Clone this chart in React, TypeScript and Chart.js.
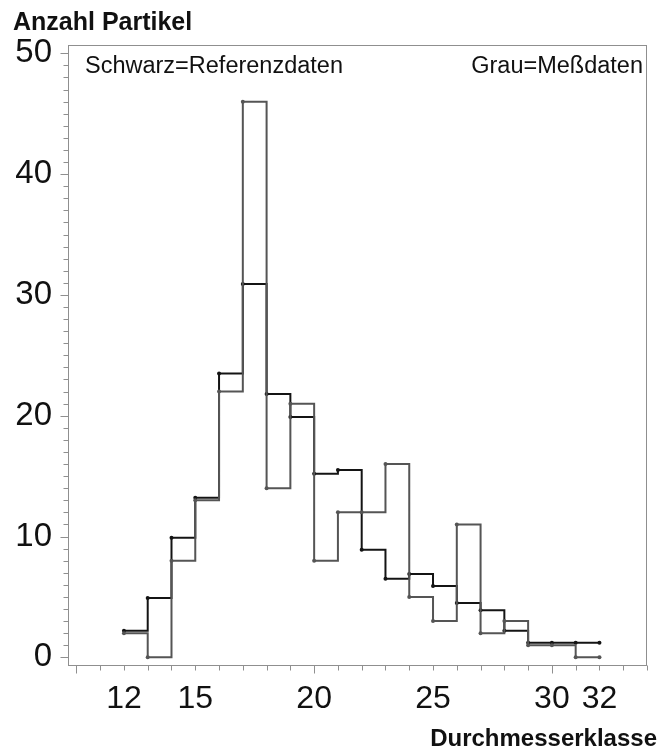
import { useEffect, useRef } from "react";
import { Chart, registerables } from "chart.js";

Chart.register(...registerables);

// Diameter classes (left edge of each class; the last entry closes the final step)
const classes = [12, 13, 14, 15, 16, 17, 18, 19, 20, 21, 22, 23, 24, 25, 26, 27, 28, 29, 30, 31, 32];

// Reference distribution (black)
const referenceCounts = [2.2, 4.9, 9.9, 13.2, 23.5, 30.9, 21.8, 19.9, 15.2, 15.5, 8.9, 6.5, 6.9, 5.9, 4.5, 3.9, 2.2, 1.2, 1.2, 1.2, 1.2];

// Measured distribution (grey)
const measuredCounts = [2, 0, 8, 13, 22, 46, 14, 21, 8, 12, 12, 16, 5, 3, 11, 2, 3, 1, 1, 0, 0];

// Axis ticks
const xTickValues = [10, 11, 12, 13, 14, 15, 16, 17, 18, 19, 20, 21, 22, 23, 24, 25, 26, 27, 28, 29, 30, 31, 32, 33, 34];
const xTickLabels = [12, 15, 20, 25, 30, 32];
const xMajorTicks = [10, 20, 30];
const yTickValues = Array.from({ length: 51 }, (_, i) => i);
const yTickLabels = [0, 10, 20, 30, 40, 50];

const yAxisTitle = "Anzahl Partikel";
const xAxisTitle = "Durchmesserklasse";
const referenceNote = "Schwarz=Referenzdaten";
const measuredNote = "Grau=Meßdaten";

const FONT = '"Liberation Sans", Arial, Helvetica, sans-serif';
const FRAME = "#8f8f8f";
const TEXT = "#111111";
const BLACK = "#141414";
const GREY = "#555555";

const framePlugin = {
  id: "frameAndTicks",
  afterDraw(chart: any) {
    const { ctx, chartArea } = chart;
    const xs = chart.scales.x;
    const ys = chart.scales.y;
    const left = Math.round(chartArea.left) + 0.5;
    const right = Math.round(chartArea.right) - 0.5;
    const top = Math.round(chartArea.top) + 0.5;
    const bottom = Math.round(chartArea.bottom) - 0.5;
    ctx.save();
    ctx.strokeStyle = FRAME;
    ctx.lineWidth = 1;
    ctx.strokeRect(left, top, right - left, bottom - top);

    ctx.beginPath();
    for (const v of yTickValues) {
      const py = Math.round(ys.getPixelForValue(v)) + 0.5;
      const len = v % 10 === 0 ? 8 : 5;
      ctx.moveTo(left - len, py);
      ctx.lineTo(left, py);
    }
    for (const v of xTickValues) {
      const px = Math.round(xs.getPixelForValue(v)) + 0.5;
      const len = xMajorTicks.includes(v) ? 8 : 5;
      ctx.moveTo(px, bottom);
      ctx.lineTo(px, bottom + len);
    }
    ctx.stroke();

    ctx.fillStyle = TEXT;
    ctx.textBaseline = "alphabetic";
    ctx.font = `bold 25px ${FONT}`;
    ctx.textAlign = "left";
    ctx.fillText(yAxisTitle, 13, 30);

    ctx.font = `bold 24px ${FONT}`;
    ctx.textAlign = "right";
    ctx.fillText(xAxisTitle, 657, 746);

    ctx.font = `23.5px ${FONT}`;
    ctx.textAlign = "left";
    ctx.fillText(referenceNote, 85, 73);
    ctx.textAlign = "right";
    ctx.fillText(measuredNote, 643, 73);
    ctx.restore();
  },
};

export default function App() {
  const canvasRef = useRef<HTMLCanvasElement | null>(null);

  useEffect(() => {
    const canvas = canvasRef.current;
    if (!canvas) return;

    const chart = new Chart(canvas, {
      type: "line",
      data: {
        datasets: [
          {
            label: measuredNote,
            data: classes.map((c, i) => ({ x: c, y: measuredCounts[i] })),
            borderColor: GREY,
            backgroundColor: GREY,
            borderWidth: 2,
            stepped: "before",
            pointRadius: 2,
            pointBorderWidth: 0,
            pointBackgroundColor: GREY,
            order: 0,
          },
          {
            label: referenceNote,
            data: classes.map((c, i) => ({ x: c, y: referenceCounts[i] })),
            borderColor: BLACK,
            backgroundColor: BLACK,
            borderWidth: 2,
            stepped: "before",
            pointRadius: 2,
            pointBorderWidth: 0,
            pointBackgroundColor: BLACK,
            order: 1,
          },
        ],
      },
      options: {
        responsive: false,
        animation: false,
        layout: { padding: { left: 0, top: 45, right: 13, bottom: 0 } },
        plugins: {
          legend: { display: false },
          tooltip: { enabled: false },
          title: { display: false },
        },
        scales: {
          x: {
            type: "linear",
            min: 9.647,
            max: 34,
            grid: { display: false, drawTicks: false },
            border: { display: false },
            afterBuildTicks: (scale: any) => {
              scale.ticks = xTickValues.map((v) => ({ value: v }));
            },
            afterFit: (scale: any) => {
              scale.height = 83;
            },
            ticks: {
              autoSkip: false,
              maxRotation: 0,
              padding: 14,
              color: TEXT,
              font: { family: FONT, size: 32 },
              callback: (v: any) => (xTickLabels.includes(Number(v)) ? String(v) : ""),
            },
          },
          y: {
            type: "linear",
            min: -0.72,
            max: 50.69,
            grid: { display: false, drawTicks: false },
            border: { display: false },
            afterBuildTicks: (scale: any) => {
              scale.ticks = yTickValues.map((v) => ({ value: v }));
            },
            afterFit: (scale: any) => {
              scale.width = 68;
            },
            ticks: {
              autoSkip: false,
              padding: 16,
              color: TEXT,
              font: { family: FONT, size: 33 },
              callback: (v: any) => (yTickLabels.includes(Number(v)) ? String(v) : ""),
            },
          },
        },
      },
      plugins: [framePlugin],
    });

    return () => chart.destroy();
  }, []);

  return (
    <div style={{ position: "absolute", left: 0, top: 0, width: 661, height: 749, background: "#ffffff" }}>
      <canvas ref={canvasRef} width={661} height={749} style={{ display: "block" }} />
    </div>
  );
}
